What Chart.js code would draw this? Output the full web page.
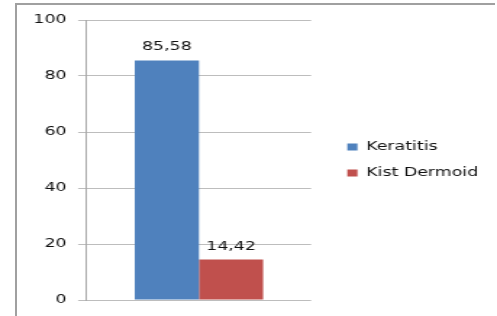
<!DOCTYPE html>
<html><head><meta charset="utf-8">
<script src="https://cdn.jsdelivr.net/npm/chart.js@4/dist/chart.umd.min.js"></script>
<style>
html,body{margin:0;padding:0;background:#fff;overflow:hidden;width:497px;height:316px;}
#wrap{position:absolute;left:0;top:0;width:343px;height:316px;transform:scaleX(1.449);transform-origin:0 0;}
#c{display:block;width:343px;height:316px;}
#frame{position:absolute;left:15px;top:3px;width:480px;height:330px;border-top:2px solid #a0a0a0;border-left:2px solid #a0a0a0;box-sizing:border-box;pointer-events:none;}
</style></head><body>
<div id="wrap"><canvas id="c" width="343" height="316"></canvas></div>
<div id="frame"></div>
<script>
const categories = [''];
const seriesNames = ['Keratitis', 'Kist Dermoid'];
const keratitis = [85.58];
const kistDermoid = [14.42];
const yTickMin = 0, yTickMax = 100, yTickStep = 20;
const colors = ['#4F81BD', '#C0504D'];

Chart.defaults.font.family = '"DejaVu Sans", sans-serif';
Chart.defaults.font.size = 12;
Chart.defaults.color = '#111111';

const valueLabels = {
  id: 'valueLabels',
  afterDatasetsDraw(chart) {
    const ctx = chart.ctx;
    ctx.save();
    ctx.font = '12px "DejaVu Sans"';
    ctx.fillStyle = '#111111';
    ctx.textAlign = 'center';
    ctx.textBaseline = 'alphabetic';
    chart.data.datasets.forEach((ds, i) => {
      chart.getDatasetMeta(i).data.forEach((bar, j) => {
        ctx.fillText(ds.data[j].toFixed(2).replace('.', ','), bar.x, bar.y - 10);
      });
    });
    ctx.restore();
  }
};

new Chart(document.getElementById('c'), {
  type: 'bar',
  data: {
    labels: categories,
    datasets: [
      { label: seriesNames[0], data: keratitis, backgroundColor: colors[0], borderWidth: 0 },
      { label: seriesNames[1], data: kistDermoid, backgroundColor: colors[1], borderWidth: 0 }
    ]
  },
  options: {
    responsive: false,
    animation: false,
    layout: { padding: { left: 15, top: 20, bottom: 16, right: 3 } },
    datasets: { bar: { categoryPercentage: 0.572, barPercentage: 1 } },
    scales: {
      x: { display: false },
      y: {
        min: yTickMin, max: yTickMax,
        ticks: { stepSize: yTickStep, padding: 8, color: '#111111' },
        grid: { color: '#bdbdbd', tickLength: 6 },
        border: { color: '#a8a8a8' }
      },
      spacer: {
        type: 'linear', position: 'right', display: true,
        afterFit(s) { s.width = 11; },
        ticks: { display: false },
        grid: { display: false, drawTicks: false },
        border: { display: false }
      }
    },
    plugins: {
      legend: {
        position: 'right',
        maxWidth: 200,
        labels: { boxWidth: 7, boxHeight: 7, padding: 14, color: '#111111', font: { size: 12 } }
      },
      tooltip: { enabled: false }
    }
  },
  plugins: [valueLabels]
});
</script>
</body></html>
